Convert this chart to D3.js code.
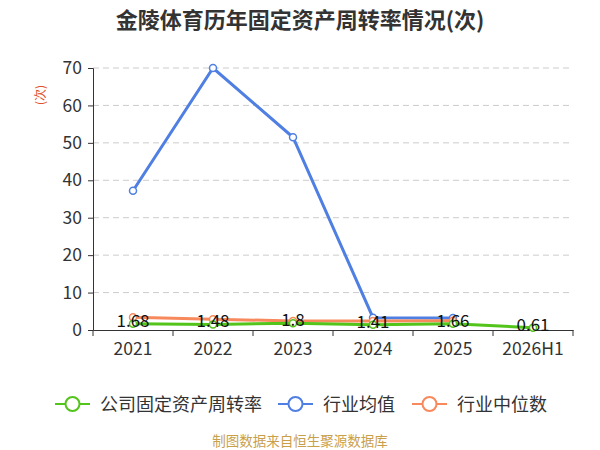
<!DOCTYPE html>
<html>
<head>
<meta charset="utf-8">
<script src="https://cdn.jsdelivr.net/npm/d3@7/dist/d3.min.js"></script>
<style>
  body { margin: 0; background: #fff; }
  text { font-family: "Noto Sans CJK SC", "Noto Sans", sans-serif; }
</style>
</head>
<body>
<svg id="chart" width="600" height="450"></svg>
<script>
const years = ["2021", "2022", "2023", "2024", "2025", "2026H1"];
const companyRate = [1.68, 1.48, 1.8, 1.41, 1.66, 0.61];
const industryMean = [37.2, 70, 51.5, 3.3, 3.2, null];
const industryMedian = [3.4, 2.9, 2.4, 2.4, 2.5, null];
const yTicks = [0, 10, 20, 30, 40, 50, 60, 70];

const series = [
  { name: "公司固定资产周转率", color: "#52c41a", values: companyRate },
  { name: "行业均值", color: "#4f7fe2", values: industryMean },
  { name: "行业中位数", color: "#f7895c", values: industryMedian }
];

const svg = d3.select("#chart");
const margin = { left: 93, right: 27, top: 68, bottom: 120 };
const width = 600, height = 450;

const x = d3.scaleBand().domain(years).range([margin.left, width - margin.right]);
const y = d3.scaleLinear().domain([0, 70]).range([height - margin.bottom, margin.top]);

// title
svg.append("text")
  .attr("x", 300).attr("y", 28)
  .attr("text-anchor", "middle")
  .style("font-size", "22px").style("font-weight", "bold").style("fill", "#333")
  .text("金陵体育历年固定资产周转率情况(次)");

// grid
svg.append("g").selectAll("line").data(yTicks.slice(1)).enter().append("line")
  .attr("x1", margin.left).attr("x2", width - margin.right)
  .attr("y1", d => y(d)).attr("y2", d => y(d))
  .attr("stroke", "#ccc").attr("stroke-dasharray", "6,4");

// y axis
const yAxis = svg.append("g")
  .attr("transform", `translate(${margin.left},0)`)
  .call(d3.axisLeft(y).tickValues(yTicks).tickSize(5).tickPadding(6));
yAxis.select(".domain").attr("stroke", "#333");
yAxis.selectAll(".tick line").attr("stroke", "#333");
yAxis.selectAll("text").style("font-size", "17.5px").style("fill", "#333");

// x axis
const xAxis = svg.append("g")
  .attr("transform", `translate(0,${y(0)})`)
  .call(d3.axisBottom(x).tickSize(0).tickPadding(13));
xAxis.select(".domain").attr("stroke", "#333");
xAxis.selectAll("text").style("font-size", "17.5px").style("fill", "#333");
xAxis.selectAll(".sep").data(d3.range(years.length + 1)).enter().append("line")
  .attr("class", "sep")
  .attr("x1", i => margin.left + i * x.step()).attr("x2", i => margin.left + i * x.step())
  .attr("y1", 0).attr("y2", 6)
  .attr("stroke", "#333");

// unit label
svg.append("text")
  .attr("transform", "translate(45,95) rotate(-90)")
  .attr("text-anchor", "middle")
  .style("font-size", "12px").style("fill", "#e0502a")
  .text("(次)");

const cx = d => x(d) + x.bandwidth() / 2;

// draw lines (mean first, then median, then company)
[series[1], series[2], series[0]].forEach(s => {
  const pts = years.map((yr, i) => ({ yr, v: s.values[i] })).filter(p => p.v != null);
  const line = d3.line().x(p => cx(p.yr)).y(p => y(p.v));
  svg.append("path").datum(pts)
    .attr("d", line).attr("fill", "none")
    .attr("stroke", s.color).attr("stroke-width", 3);
  svg.append("g").selectAll("circle").data(pts).enter().append("circle")
    .attr("cx", p => cx(p.yr)).attr("cy", p => y(p.v)).attr("r", 3.5)
    .attr("fill", "#fff").attr("stroke", s.color).attr("stroke-width", 1.5);
});

// value labels
svg.append("g").selectAll("text").data(years).enter().append("text")
  .attr("x", d => cx(d))
  .attr("y", (d, i) => y(companyRate[i]) + 3)
  .attr("text-anchor", "middle")
  .style("font-size", "17px").style("fill", "#111")
  .text((d, i) => companyRate[i]);

// legend
const legendX = [55, 278, 412];
const legend = svg.append("g");
series.forEach((s, i) => {
  const g = legend.append("g").attr("transform", `translate(${legendX[i]},404)`);
  g.append("line").attr("x1", 0).attr("x2", 35).attr("stroke", s.color).attr("stroke-width", 2);
  g.append("circle").attr("cx", 17.5).attr("r", 7).attr("fill", "#fff")
    .attr("stroke", s.color).attr("stroke-width", 2);
  g.append("text").attr("x", 45).attr("y", 6.5)
    .style("font-size", "18px").style("fill", "#333").text(s.name);
});

// source
svg.append("text")
  .attr("x", 300).attr("y", 446)
  .attr("text-anchor", "middle")
  .style("font-size", "13.5px").style("fill", "#c9a04a")
  .text("制图数据来自恒生聚源数据库");
</script>
</body>
</html>
